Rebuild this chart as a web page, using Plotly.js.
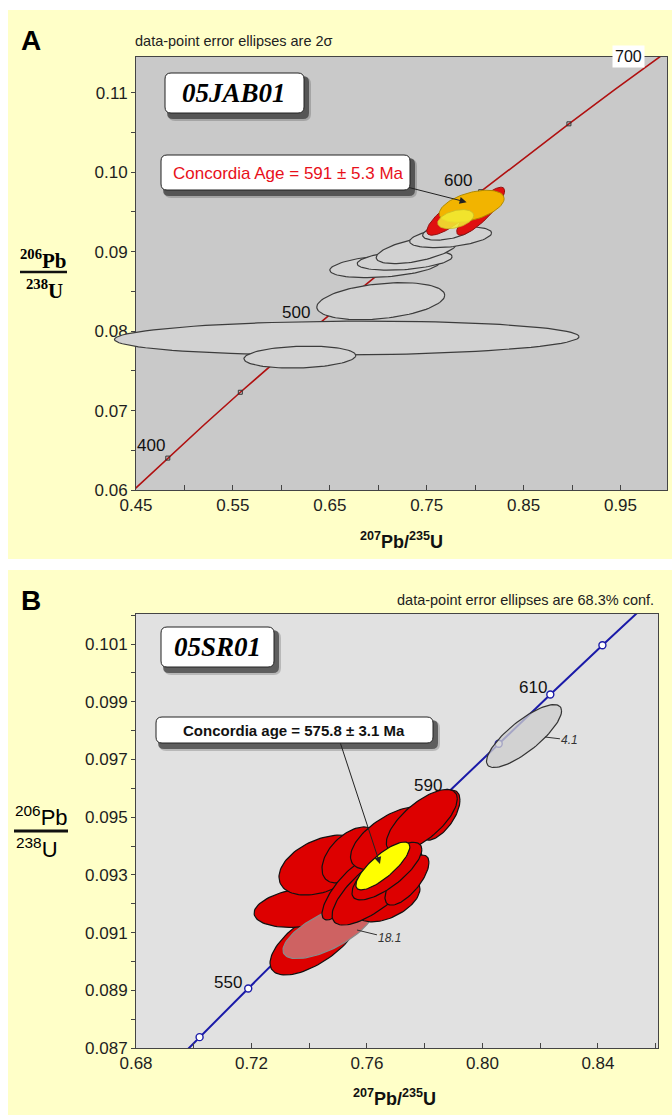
<!DOCTYPE html>
<html><head><meta charset="utf-8">
<script src="https://cdn.plot.ly/plotly-3.0.1.min.js"></script>
<style>html,body{margin:0;padding:0;background:#fff;}#chart{width:672px;height:1115px;}</style>
</head><body><div id="chart"></div>
<script>
// U-Pb decay constants (per year)
const L238 = 1.55125e-10, L235 = 9.8485e-10;

// ---------- Panel A (05JAB01) ----------
const A_curveAges  = [375, 400, 425, 450, 475, 500, 525, 550, 575, 600, 625, 650, 675, 700, 705];
const A_markerAges = [400, 450, 500, 550, 600, 650, 700];
// gray data-point ellipses: centre, half-extent in x and y, correlation
const A_gx   = [0.6675, 0.6191, 0.7026, 0.7067, 0.7273, 0.7397, 0.7747, 0.7716];
const A_gy   = [0.07912, 0.07673, 0.08377, 0.08818, 0.08893, 0.09019, 0.09182, 0.09258];
const A_gsx  = [0.2397, 0.0577, 0.0660, 0.0567, 0.0490, 0.0418, 0.0423, 0.0258];
const A_gsy  = [0.00214, 0.00138, 0.00233, 0.00145, 0.00126, 0.00170, 0.00132, 0.00113];
const A_grho = [0.08, 0.15, 0.32, 0.35, 0.35, 0.55, 0.40, 0.45];
// red ellipses
const A_rx   = [0.7758, 0.8057];
const A_ry   = [0.09459, 0.09509];
const A_rsx  = [0.0258, 0.0247];
const A_rsy  = [0.00252, 0.00302];
const A_rrho = [0.80, 0.85];
// concordia-age ellipse (orange) and yellow ellipse
const A_age  = {x: 0.7964, y: 0.09572, sx: 0.0335, sy: 0.00201, rho: 0.47};
const A_yel  = {x: 0.7799, y: 0.09409, sx: 0.01856, sy: 0.00120, rho: 0.40};

// ---------- Panel B (05SR01) ----------
const B_curveAges  = [530, 540, 550, 560, 570, 580, 590, 600, 610, 620, 630, 640];
const B_markerAges = [540, 550, 560, 570, 580, 590, 600, 610, 620];
// red ellipses (drawing order; first three lie under spot 18.1)
const B_rx   = [0.7420, 0.7389, 0.74476, 0.75411, 0.75307, 0.76727, 0.7635, 0.77385, 0.7687, 0.78528, 0.7790, 0.7669];
const B_ry   = [0.09074, 0.09189, 0.09334, 0.09369, 0.09248, 0.09213, 0.09261, 0.09282, 0.09428, 0.09507, 0.09487, 0.09313];
const B_rsx  = [0.01558, 0.0180, 0.01524, 0.0097, 0.00866, 0.01108, 0.01559, 0.00762, 0.0144, 0.00693, 0.0123, 0.0121];
const B_rsy  = [0.00121, 0.00071, 0.00104, 0.00097, 0.00104, 0.00076, 0.00135, 0.00087, 0.00109, 0.00087, 0.00109, 0.0010];
const B_rrho = [0.66, 0.30, 0.40, 0.50, 0.80, 0.50, 0.75, 0.70, 0.60, 0.60, 0.70, 0.75];
const B_pink = {x: 0.74649, y: 0.09105, sx: 0.01558, sy: 0.000953, rho: 0.69};   // spot 18.1
const B_gray = {x: 0.8144, y: 0.09781, sx: 0.0130, sy: 0.00109, rho: 0.80};      // spot 4.1
const B_yel  = {x: 0.7655, y: 0.09331, sx: 0.00935, sy: 0.00083, rho: 0.80};     // concordia age

// ---------- helpers ----------
const W = 672, H = 1115;
const px = v => v / W, py = v => 1 - v / H;
const cx = t => Math.exp(L235 * t * 1e6) - 1;
const cy = t => Math.exp(L238 * t * 1e6) - 1;
function ell(x0, y0, sx, sy, rho) {
  const xs = [], ys = [], n = 96, c = Math.sqrt(1 - rho * rho);
  for (let i = 0; i <= n; i++) {
    const t = 2 * Math.PI * i / n;
    xs.push(x0 + sx * Math.cos(t));
    ys.push(y0 + sy * (rho * Math.cos(t) + c * Math.sin(t)));
  }
  return {xs, ys};
}
function ellTrace(e, fill, line, lw, ax, ay) {
  const p = ell(e.x, e.y, e.sx, e.sy, e.rho);
  return {x: p.xs, y: p.ys, type: 'scatter', mode: 'lines', fill: 'toself', fillcolor: fill,
    line: {color: line, width: lw}, hoverinfo: 'skip', showlegend: false, xaxis: ax, yaxis: ay};
}
function rr(x0, y0, x1, y1, r) {
  const P = (x, y) => px(x) + ',' + py(y);
  return 'M' + P(x0 + r, y0) + ' L' + P(x1 - r, y0) + ' Q' + P(x1, y0) + ' ' + P(x1, y0 + r) +
    ' L' + P(x1, y1 - r) + ' Q' + P(x1, y1) + ' ' + P(x1 - r, y1) + ' L' + P(x0 + r, y1) +
    ' Q' + P(x0, y1) + ' ' + P(x0, y1 - r) + ' L' + P(x0, y0 + r) + ' Q' + P(x0, y0) + ' ' + P(x0 + r, y0) + ' Z';
}
function box(x0, y0, x1, y1) {
  return [
    {type: 'path', xref: 'paper', yref: 'paper', path: rr(x0 + 3, y0 + 4, x1 + 7, y1 + 8, 7), fillcolor: 'rgba(0,0,0,0.18)', line: {width: 0}, layer: 'above'},
    {type: 'path', xref: 'paper', yref: 'paper', path: rr(x0 + 2, y0 + 3, x1 + 5, y1 + 6, 6), fillcolor: 'rgba(20,20,20,0.55)', line: {width: 0}, layer: 'above'},
    {type: 'path', xref: 'paper', yref: 'paper', path: rr(x0, y0, x1, y1, 6), fillcolor: '#ffffff', line: {color: '#222', width: 1}, layer: 'above'}
  ];
}

// axis geometry (plot-area pixels)
const A_left = 136, A_right = 667, A_xr = [0.45, 0.998];
const A_ppu = (A_right - A_left) / (A_xr[1] - A_xr[0]);
const A_extLeft = 100;   // ellipses may spill past the left frame, as in the original

const traces = [];
// Panel A concordia
traces.push({x: A_curveAges.map(cx), y: A_curveAges.map(cy), type: 'scatter', mode: 'lines',
  line: {color: '#b01010', width: 1.6}, hoverinfo: 'skip', showlegend: false, xaxis: 'x', yaxis: 'y'});
traces.push({x: A_markerAges.map(cx), y: A_markerAges.map(cy), type: 'scatter', mode: 'markers',
  marker: {symbol: 'square-open', size: 4, color: '#333', line: {width: 1}}, cliponaxis: false,
  hoverinfo: 'skip', showlegend: false, xaxis: 'x', yaxis: 'y'});
for (let i = 0; i < A_gx.length; i++)
  traces.push(ellTrace({x: A_gx[i], y: A_gy[i], sx: A_gsx[i], sy: A_gsy[i], rho: A_grho[i]}, '#d2d2d2', '#3c3c3c', 1.2, 'x3', 'y3'));
for (let i = 0; i < A_rx.length; i++)
  traces.push(ellTrace({x: A_rx[i], y: A_ry[i], sx: A_rsx[i], sy: A_rsy[i], rho: A_rrho[i]}, '#e01010', '#901010', 1, 'x3', 'y3'));
traces.push(ellTrace(A_age, '#f2b400', '#b08a00', 1, 'x3', 'y3'));
traces.push(ellTrace(A_yel, 'rgba(240,235,50,0.88)', 'rgba(200,190,40,0.8)', 1, 'x3', 'y3'));

// Panel B concordia
traces.push({x: B_curveAges.map(cx), y: B_curveAges.map(cy), type: 'scatter', mode: 'lines',
  line: {color: '#1a1aa8', width: 2}, hoverinfo: 'skip', showlegend: false, xaxis: 'x2', yaxis: 'y2'});
traces.push({x: B_markerAges.map(cx), y: B_markerAges.map(cy), type: 'scatter', mode: 'markers',
  marker: {symbol: 'circle', size: 7, color: '#ffffff', line: {color: '#1a1aa8', width: 1.4}},
  hoverinfo: 'skip', showlegend: false, xaxis: 'x2', yaxis: 'y2'});
traces.push(ellTrace(B_gray, 'rgba(205,205,205,0.78)', '#333', 1.2, 'x2', 'y2'));
for (let i = 0; i < 3; i++)
  traces.push(ellTrace({x: B_rx[i], y: B_ry[i], sx: B_rsx[i], sy: B_rsy[i], rho: B_rrho[i]}, '#dd0000', '#111', 1.2, 'x2', 'y2'));
traces.push(ellTrace(B_pink, 'rgb(206,98,98)', '#8a8a8a', 1.2, 'x2', 'y2'));
for (let i = 3; i < B_rx.length; i++)
  traces.push(ellTrace({x: B_rx[i], y: B_ry[i], sx: B_rsx[i], sy: B_rsy[i], rho: B_rrho[i]}, '#dd0000', '#111', 1.2, 'x2', 'y2'));
traces.push(ellTrace(B_yel, '#ffff00', '#111', 1.2, 'x2', 'y2'));

const tf = {family: 'Liberation Sans, Arial, sans-serif', size: 17, color: '#1e1e1e'};
const axBase = {showgrid: false, zeroline: false, showline: true, mirror: true, linecolor: '#444', linewidth: 1,
  tickfont: tf, tickcolor: '#444', fixedrange: true};
const layout = {
  width: W, height: H, margin: {l: 0, r: 0, t: 0, b: 0},
  paper_bgcolor: '#ffffff', plot_bgcolor: 'rgba(0,0,0,0)', showlegend: false,
  xaxis: Object.assign({}, axBase, {domain: [px(A_left), px(A_right)], range: A_xr, tick0: 0.45, dtick: 0.1,
    tickformat: '.2f', ticks: 'inside', ticklen: 5, minor: {dtick: 0.05, ticks: 'inside', ticklen: 5, tickcolor: '#444'}, anchor: 'y'}),
  yaxis: Object.assign({}, axBase, {domain: [py(490), py(57)], range: [0.06, 0.1145], tick0: 0.06, dtick: 0.01,
    tickformat: '.2f', ticks: 'outside', ticklen: 4, minor: {dtick: 0.005, ticks: 'outside', ticklen: 4, tickcolor: '#444'}, anchor: 'x'}),
  // same scale as panel A, widened to the left so the long ellipse is not clipped
  xaxis3: {domain: [px(A_extLeft), px(A_right)], range: [A_xr[0] - (A_left - A_extLeft) / A_ppu, A_xr[1]],
    visible: false, fixedrange: true, anchor: 'y3'},
  yaxis3: {domain: [py(490), py(57)], range: [0.06, 0.1145], visible: false, fixedrange: true, anchor: 'x3'},
  xaxis2: Object.assign({}, axBase, {domain: [px(136), px(658)], range: [0.68, 0.8608], tick0: 0.68, dtick: 0.04,
    tickformat: '.2f', ticks: 'inside', ticklen: 5, minor: {dtick: 0.02, ticks: 'inside', ticklen: 5, tickcolor: '#444'}, anchor: 'y2'}),
  yaxis2: Object.assign({}, axBase, {domain: [py(1048), py(614)], range: [0.087, 0.10204], tick0: 0.087, dtick: 0.002,
    tickformat: '.3f', ticks: 'outside', ticklen: 4, minor: {dtick: 0.001, ticks: 'outside', ticklen: 4, tickcolor: '#444'}, anchor: 'x2'}),
  shapes: [
    {type: 'rect', xref: 'paper', yref: 'paper', x0: px(8), x1: 1, y0: py(559), y1: py(10), fillcolor: '#ffffc8', line: {width: 0}, layer: 'below'},
    {type: 'rect', xref: 'paper', yref: 'paper', x0: px(8), x1: 1, y0: 0, y1: py(570), fillcolor: '#ffffc8', line: {width: 0}, layer: 'below'},
    {type: 'rect', xref: 'x domain', yref: 'y domain', x0: 0, x1: 1, y0: 0, y1: 1, fillcolor: '#c9c9c9', line: {width: 0}, layer: 'below'},
    {type: 'rect', xref: 'x2 domain', yref: 'y2 domain', x0: 0, x1: 1, y0: 0, y1: 1, fillcolor: '#e1e1e1', line: {width: 0}, layer: 'below'},
    {type: 'line', xref: 'paper', yref: 'paper', x0: px(20), x1: px(67), y0: py(272), y1: py(272), line: {color: '#111', width: 2.5}},
    {type: 'line', xref: 'paper', yref: 'paper', x0: px(14), x1: px(68), y0: py(831), y1: py(831), line: {color: '#111', width: 3}}
  ].concat(box(165, 73, 304, 113), box(161, 155, 410, 190), box(161, 627, 274, 667), box(156, 717, 433, 743)),
  annotations: []
};
const sans = 'Liberation Sans, Arial, sans-serif', serif = 'Liberation Serif, Times New Roman, serif';
function ann(x, y, text, size, opts) {
  return Object.assign({xref: 'paper', yref: 'paper', x: px(x), y: py(y), text: text, showarrow: false,
    xanchor: 'center', yanchor: 'middle', font: {family: sans, size: size, color: '#111'}}, opts || {});
}
layout.annotations.push(
  ann(31, 41, '<b>A</b>', 28, {font: {family: sans, size: 28, color: '#000'}}),
  ann(133, 41, 'data-point error ellipses are 2σ', 14.5, {xanchor: 'left', font: {family: sans, size: 14.5, color: '#222'}}),
  ann(234, 93, '<b><i>05JAB01</i></b>', 27, {font: {family: serif, size: 27, color: '#000'}}),
  ann(171, 173, 'Concordia Age = 591 ± 5.3 Ma', 17, {xanchor: 'left', font: {family: sans, size: 17, color: '#e8101a'}}),
  ann(458, 180, '600', 17), ann(296, 313, '500', 17), ann(151, 445, '400', 17),
  ann(628, 56, '700', 16, {bgcolor: '#ffffff', borderpad: 2}),
  ann(401, 541, '<b><sup>207</sup>Pb/<sup>235</sup>U</b>', 18),
  ann(43, 259, '<b><sup>206</sup>Pb</b>', 21, {font: {family: serif, size: 21, color: '#000'}}),
  ann(44, 290, '<b><sup>238</sup>U</b>', 21, {font: {family: serif, size: 21, color: '#000'}}),

  ann(31, 600, '<b>B</b>', 28, {font: {family: sans, size: 28, color: '#000'}}),
  ann(656, 600, 'data-point error ellipses are 68.3% conf.', 14.5, {xanchor: 'right', font: {family: sans, size: 14.5, color: '#222'}}),
  ann(217, 647, '<b><i>05SR01</i></b>', 27, {font: {family: serif, size: 27, color: '#000'}}),
  ann(294, 730, '<b>Concordia age = 575.8 ± 3.1 Ma</b>', 15),
  ann(533, 687, '610', 17), ann(428, 785, '590', 17), ann(228, 982, '550', 17),
  ann(394, 1097, '<b><sup>207</sup>Pb/<sup>235</sup>U</b>', 18),
  ann(41, 816, '<sup>206</sup>Pb', 22, {font: {family: sans, size: 22, color: '#000'}}),
  ann(37, 848, '<sup>238</sup>U', 22, {font: {family: sans, size: 22, color: '#000'}})
);
// arrows from the age boxes to the concordia ages, and spot-label leaders
layout.annotations.push(
  {xref: 'x', yref: 'y', x: 0.7912, y: 0.09623, ax: -59, ay: -15, text: '', showarrow: true,
    arrowhead: 2, arrowsize: 1.4, arrowwidth: 1, arrowcolor: '#222', standoff: 0},
  {xref: 'x2', yref: 'y2', x: 0.7645, y: 0.09338, ax: -40, ay: -122, text: '', showarrow: true,
    arrowhead: 2, arrowsize: 1.4, arrowwidth: 1, arrowcolor: '#222', standoff: 0},
  {xref: 'x2', yref: 'y2', x: 0.68 + (545 - 136) / 2887.5, y: 0.087 + (1048 - 737) / 28857, ax: 25, ay: 3,
    text: '<i>4.1</i>', showarrow: true, arrowhead: 0, arrowwidth: 1, arrowcolor: '#333',
    font: {family: sans, size: 12, color: '#333'}},
  {xref: 'x2', yref: 'y2', x: 0.68 + (357 - 136) / 2887.5, y: 0.087 + (1048 - 930) / 28857, ax: 33, ay: 8,
    text: '<i>18.1</i>', showarrow: true, arrowhead: 0, arrowwidth: 1, arrowcolor: '#333',
    font: {family: sans, size: 12, color: '#333'}}
);
Plotly.newPlot('chart', traces, layout, {staticPlot: true, displayModeBar: false});
</script></body></html>
